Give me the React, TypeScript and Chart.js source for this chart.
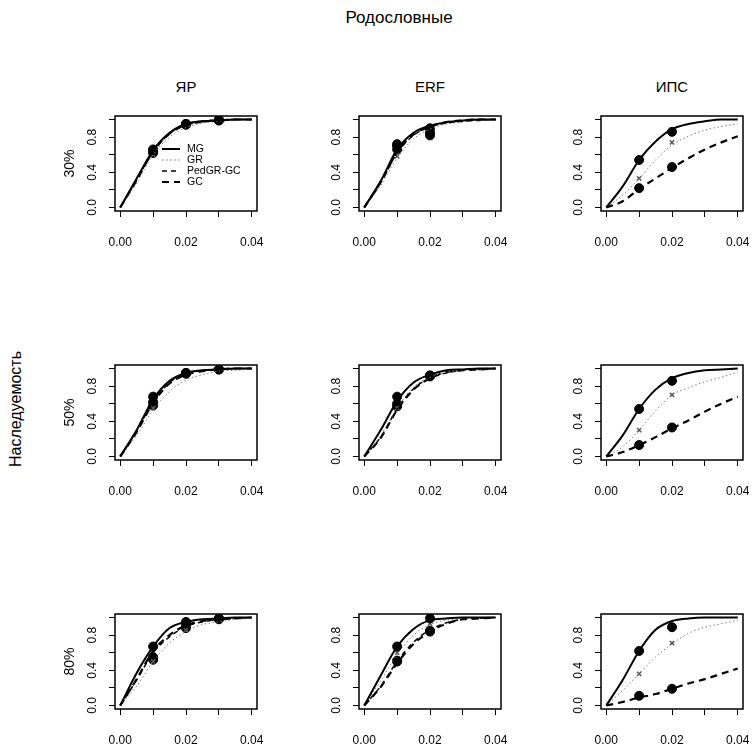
import React, { useEffect, useRef } from 'react';
import { Chart, registerables } from 'chart.js';

Chart.register(...registerables);

// ---------- data ----------
const MAIN_TITLE = 'Родословные';
const ROW_AXIS_TITLE = 'Наследуемость';
const COLUMNS = ['ЯР', 'ERF', 'ИПС'];
const ROWS = ['30%', '50%', '80%'];
const SERIES = ['MG', 'GR', 'PedGR-GC', 'GC'];

const X_GRID = [0, 0.005, 0.01, 0.015, 0.02, 0.025, 0.03, 0.035, 0.04];
const X_TICKS = [0, 0.01, 0.02, 0.03, 0.04];
const X_TICK_LABELS = ['0.00', '', '0.02', '', '0.04'];
const Y_TICKS = [0, 0.2, 0.4, 0.6, 0.8, 1.0];
const Y_TICK_LABELS = ['0.0', '', '0.4', '', '0.8', ''];

// point x positions per column (ЯР, ERF, ИПС)
const POINT_X = [
  [0.01, 0.02, 0.03],
  [0.01, 0.02],
  [0.01, 0.02],
];

// curves, panel order: row (30%,50%,80%) x column (ЯР, ERF, ИПС)
const MG_CURVES = [
  [0, 0.33, 0.65, 0.85, 0.95, 0.98, 0.99, 1.0, 1.0],
  [0, 0.30, 0.66, 0.85, 0.93, 0.97, 0.99, 1.0, 1.0],
  [0, 0.24, 0.54, 0.75, 0.89, 0.95, 0.98, 1.0, 1.0],
  [0, 0.30, 0.65, 0.86, 0.95, 0.98, 0.99, 1.0, 1.0],
  [0, 0.30, 0.63, 0.84, 0.93, 0.98, 0.99, 1.0, 1.0],
  [0, 0.24, 0.54, 0.76, 0.89, 0.95, 0.98, 0.99, 1.0],
  [0, 0.37, 0.67, 0.88, 0.95, 0.98, 0.99, 1.0, 1.0],
  [0, 0.34, 0.67, 0.87, 0.97, 0.99, 1.0, 1.0, 1.0],
  [0, 0.29, 0.62, 0.86, 0.96, 0.99, 1.0, 1.0, 1.0],
];
const GR_CURVES = [
  [0, 0.28, 0.60, 0.80, 0.91, 0.96, 0.98, 0.99, 1.0],
  [0, 0.25, 0.56, 0.78, 0.89, 0.95, 0.97, 0.99, 0.99],
  [0, 0.14, 0.33, 0.54, 0.71, 0.81, 0.88, 0.92, 0.95],
  [0, 0.24, 0.53, 0.74, 0.87, 0.93, 0.97, 0.98, 0.99],
  [0, 0.24, 0.55, 0.79, 0.90, 0.96, 0.98, 0.99, 1.0],
  [0, 0.11, 0.30, 0.52, 0.70, 0.78, 0.85, 0.90, 0.96],
  [0, 0.22, 0.50, 0.71, 0.84, 0.92, 0.95, 0.98, 0.99],
  [0, 0.28, 0.58, 0.80, 0.92, 0.97, 0.99, 1.0, 1.0],
  [0, 0.17, 0.36, 0.55, 0.70, 0.82, 0.89, 0.93, 0.97],
];
const PG_CURVES = [
  [0, 0.32, 0.63, 0.84, 0.94, 0.97, 0.99, 1.0, 1.0],
  [0, 0.28, 0.62, 0.82, 0.92, 0.96, 0.98, 0.99, 1.0],
  [],
  [0, 0.29, 0.62, 0.84, 0.94, 0.98, 0.99, 1.0, 1.0],
  [0, 0.22, 0.54, 0.77, 0.89, 0.95, 0.98, 0.99, 1.0],
  [],
  [0, 0.29, 0.60, 0.78, 0.90, 0.95, 0.98, 0.99, 1.0],
  [0, 0.22, 0.50, 0.72, 0.86, 0.94, 0.98, 0.99, 1.0],
  [],
];
const GC_CURVES = [
  [0, 0.31, 0.64, 0.84, 0.94, 0.98, 0.99, 1.0, 1.0],
  [0, 0.29, 0.63, 0.83, 0.92, 0.97, 0.99, 1.0, 1.0],
  [0, 0.07, 0.21, 0.33, 0.45, 0.56, 0.66, 0.74, 0.81],
  [0, 0.28, 0.61, 0.83, 0.93, 0.97, 0.99, 1.0, 1.0],
  [0, 0.21, 0.53, 0.76, 0.89, 0.96, 0.98, 0.99, 1.0],
  [0, 0.05, 0.13, 0.22, 0.32, 0.41, 0.51, 0.60, 0.68],
  [0, 0.30, 0.62, 0.80, 0.91, 0.96, 0.98, 0.99, 1.0],
  [0, 0.21, 0.48, 0.70, 0.84, 0.93, 0.98, 0.99, 1.0],
  [0, 0.04, 0.09, 0.13, 0.19, 0.25, 0.30, 0.36, 0.42],
];

// observed points (at POINT_X of the panel's column)
const MG_POINTS = [
  [0.65, 0.95, 0.99],
  [0.70, 0.90],
  [0.54, 0.86],
  [0.68, 0.95, 0.99],
  [0.68, 0.92],
  [0.54, 0.86],
  [0.67, 0.95, 0.99],
  [0.67, 0.99],
  [0.62, 0.89],
];
const GR_POINTS = [
  [0.60, 0.93, 0.99],
  [0.58, 0.88],
  [0.33, 0.74],
  [0.55, 0.92, 0.98],
  [0.55, 0.90],
  [0.30, 0.70],
  [0.50, 0.86, 0.97],
  [0.60, 0.93],
  [0.36, 0.71],
];
const PG_POINTS = [
  [0.62, 0.94, 0.99],
  [0.66, 0.85],
  [],
  [0.62, 0.94, 0.99],
  [0.60, 0.91],
  [],
  [0.52, 0.88, 0.98],
  [0.50, 0.85],
  [],
];
const GC_POINTS = [
  [0.66, 0.95, 1.0],
  [0.72, 0.82],
  [0.22, 0.46],
  [0.58, 0.95, 0.99],
  [0.57, 0.92],
  [0.13, 0.33],
  [0.55, 0.92, 0.99],
  [0.51, 0.84],
  [0.11, 0.19],
];

// ---------- layout / style ----------
const FONT = '"Liberation Sans", Arial, sans-serif';
const BOX_LEFT = [115, 359, 601];
const BOX_TOP = [116, 365, 614];
const BOX_W = 142;
const BOX_H = 95;
const PAD_L = 62;
const PAD_T = 8;
const PAD_R = 14;
const PAD_B = 42;

const LINE_STYLE = [
  { color: '#000', width: 2, dash: [] as number[] },
  { color: '#7a7a7a', width: 1, dash: [1.5, 2.5] },
  { color: '#000', width: 1.5, dash: [5, 4] },
  { color: '#000', width: 2.2, dash: [7, 5] },
];

const decorPlugin = {
  id: 'panelDecor',
  afterDraw(chart: any, _args: any, opts: any) {
    const { ctx, chartArea } = chart;
    const { left, top, width, height } = chartArea;
    ctx.save();
    // box
    ctx.strokeStyle = '#000';
    ctx.lineWidth = 1.5;
    ctx.setLineDash([]);
    ctx.strokeRect(left, top, width, height);
    // y tick labels (rotated, R style)
    const ys = chart.scales.y;
    ctx.fillStyle = '#000';
    ctx.font = `12px ${FONT}`;
    ctx.textAlign = 'center';
    ctx.textBaseline = 'middle';
    ys.ticks.forEach((t: any) => {
      if (!t.label) return;
      const py = ys.getPixelForValue(t.value);
      ctx.save();
      ctx.translate(left - 22, py);
      ctx.rotate(-Math.PI / 2);
      ctx.fillText(t.label, 0, 0);
      ctx.restore();
    });
    // row label
    if (opts && opts.rowLabel) {
      ctx.save();
      ctx.font = `14px ${FONT}`;
      ctx.translate(left - 45, top + height / 2);
      ctx.rotate(-Math.PI / 2);
      ctx.fillText(opts.rowLabel, 0, 0);
      ctx.restore();
    }
    // legend
    if (opts && opts.legend) {
      ctx.font = `10.5px ${FONT}`;
      ctx.textAlign = 'left';
      SERIES.forEach((name, i) => {
        const ds = chart.data.datasets[i];
        const y = top + 33 + i * 11;
        ctx.save();
        ctx.strokeStyle = ds.borderColor;
        ctx.lineWidth = ds.borderWidth;
        ctx.setLineDash(ds.borderDash || []);
        ctx.beginPath();
        ctx.moveTo(left + 47, y);
        ctx.lineTo(left + 65, y);
        ctx.stroke();
        ctx.restore();
        ctx.fillStyle = '#000';
        ctx.fillText(name, left + 72, y);
      });
    }
    ctx.restore();
  },
};

function Panel({ idx }: { idx: number }) {
  const ref = useRef<HTMLCanvasElement>(null);
  const row = Math.floor(idx / 3);
  const col = idx % 3;
  useEffect(() => {
    if (!ref.current) return;
    const curves = [MG_CURVES[idx], GR_CURVES[idx], PG_CURVES[idx], GC_CURVES[idx]];
    const points = [MG_POINTS[idx], GR_POINTS[idx], PG_POINTS[idx], GC_POINTS[idx]];
    const datasets: any[] = [];
    SERIES.forEach((name, s) => {
      const st = LINE_STYLE[s];
      datasets.push({
        label: name,
        data: curves[s].map((y, i) => ({ x: X_GRID[i], y })),
        borderColor: st.color,
        borderWidth: st.width,
        borderDash: st.dash,
        pointRadius: 0,
        fill: false,
        cubicInterpolationMode: 'monotone',
      });
    });
    SERIES.forEach((name, s) => {
      const isGR = s === 1;
      datasets.push({
        label: name + ' obs',
        data: points[s].map((y, i) => ({ x: POINT_X[col][i], y })),
        showLine: false,
        pointStyle: isGR ? 'crossRot' : 'circle',
        pointRadius: isGR ? 3 : 4.5,
        pointBackgroundColor: '#000',
        pointBorderColor: isGR ? '#555' : '#000',
        pointBorderWidth: isGR ? 1.5 : 1,
      });
    });
    const chart = new Chart(ref.current, {
      type: 'line',
      data: { datasets },
      plugins: [decorPlugin],
      options: {
        responsive: false,
        animation: false,
        events: [],
        layout: { padding: { left: 0, top: PAD_T, right: PAD_R, bottom: 0 } },
        plugins: {
          legend: { display: false },
          tooltip: { enabled: false },
          panelDecor: { rowLabel: col === 0 ? ROWS[row] : '', legend: idx === 0 },
        } as any,
        scales: {
          x: {
            type: 'linear',
            min: -0.0016,
            max: 0.0416,
            afterBuildTicks: (s: any) => { s.ticks = X_TICKS.map((v) => ({ value: v })); },
            afterFit: (s: any) => { s.height = PAD_B; s.paddingLeft = 0; s.paddingRight = 0; },
            ticks: {
              callback: (_v: any, i: number) => X_TICK_LABELS[i],
              font: { family: FONT, size: 12 },
              color: '#000',
              padding: 18,
              maxRotation: 0,
              minRotation: 0,
              autoSkip: false,
            },
            grid: { drawOnChartArea: false, drawTicks: true, tickLength: 6, color: '#000', lineWidth: 1 },
            border: { display: false },
          },
          y: {
            type: 'linear',
            min: -0.04,
            max: 1.04,
            afterBuildTicks: (s: any) => { s.ticks = Y_TICKS.map((v) => ({ value: v })); },
            afterFit: (s: any) => { s.width = PAD_L; s.paddingTop = 0; s.paddingBottom = 0; },
            ticks: {
              display: false,
              callback: (_v: any, i: number) => Y_TICK_LABELS[i],
              autoSkip: false,
            },
            grid: { drawOnChartArea: false, drawTicks: true, tickLength: 6, color: '#000', lineWidth: 1 },
            border: { display: false },
          },
        },
      } as any,
    });
    return () => chart.destroy();
  }, [idx, row, col]);
  const w = PAD_L + BOX_W + PAD_R;
  const h = PAD_T + BOX_H + PAD_B;
  return (
    <canvas
      ref={ref}
      width={w}
      height={h}
      style={{ position: 'absolute', left: BOX_LEFT[col] - PAD_L, top: BOX_TOP[row] - PAD_T, width: w, height: h }}
    />
  );
}

export default function App() {
  const text = { position: 'absolute' as const, fontFamily: FONT, color: '#000', whiteSpace: 'nowrap' as const };
  return (
    <div style={{ position: 'absolute', left: 0, top: 0, width: 754, height: 744, overflow: 'hidden', background: '#fff' }}>
      <div style={{ ...text, left: 399, top: 18, fontSize: 17, transform: 'translate(-50%, -50%)' }}>{MAIN_TITLE}</div>
      {COLUMNS.map((c, i) => (
        <div key={c} style={{ ...text, left: BOX_LEFT[i] + BOX_W / 2, top: 86, fontSize: 15, transform: 'translate(-50%, -50%)' }}>{c}</div>
      ))}
      <div style={{ ...text, left: 16, top: 409, fontSize: 16, transform: 'translate(-50%, -50%) rotate(-90deg)' }}>{ROW_AXIS_TITLE}</div>
      {Array.from({ length: 9 }, (_, i) => <Panel key={i} idx={i} />)}
    </div>
  );
}
